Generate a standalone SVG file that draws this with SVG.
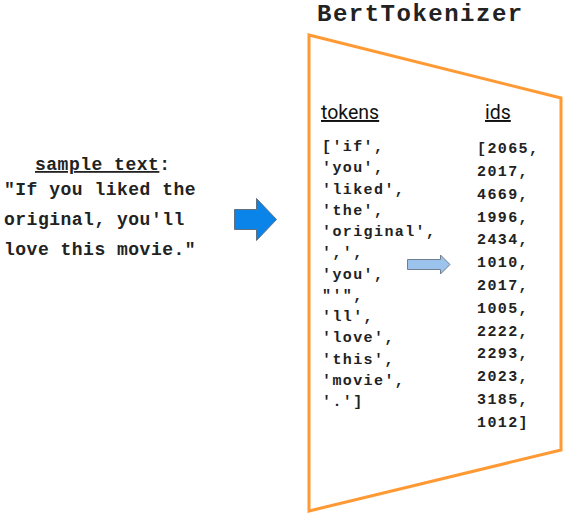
<svg xmlns="http://www.w3.org/2000/svg" width="570" height="517" viewBox="0 0 570 517">
<style>
.mono{font-family:"Courier New","Liberation Mono",monospace;font-weight:bold;fill:#222}
.big{font-size:18px;letter-spacing:0.5px}
.tok{font-size:15px;letter-spacing:1.4px}
.hdr{font-family:Roboto,"Liberation Sans",sans-serif;font-size:19.5px;fill:#111;text-decoration:underline}
</style>
<rect width="570" height="517" fill="#fff"/>
<g id="input-text">
<text class="mono big" x="35" y="170"><tspan text-decoration="underline">sample text</tspan>:</text>
<text class="mono big" x="4" y="195">"If you liked the</text>
<text class="mono big" x="4" y="225">original, you'll</text>
<text class="mono big" x="4" y="255">love this movie."</text>
</g>
<g id="connectors">
<path d="M234.5,209.5 H256.5 V198.5 L276.5,219.5 L256.5,240.5 V229.5 H234.5 Z" fill="#0a84e8" stroke="#607080" stroke-width="1"/>
<path d="M407.5,259.5 H440.5 V255 L450,264.5 L440.5,274 V269.5 H407.5 Z" fill="#9cc3ec" stroke="#6f7f8f" stroke-width="1"/>
</g>
<g id="tokenizer">
<polygon points="309,35 561,98 561,450 309,511" fill="none" stroke="#ff9933" stroke-width="3"/>
<text class="mono" x="317" y="21" font-size="24" letter-spacing="1.5">BertTokenizer</text>
</g>
<g id="tokens">
<text class="hdr" x="321" y="119">tokens</text>
<text class="mono tok" x="322"><tspan x="322" y="151">['if',</tspan><tspan x="322" y="172">'you',</tspan><tspan x="322" y="193.5">'liked',</tspan><tspan x="322" y="214.5">'the',</tspan><tspan x="322" y="236">'original',</tspan><tspan x="322" y="257">',',</tspan><tspan x="322" y="278.5">'you',</tspan><tspan x="322" y="299.5">"'",</tspan><tspan x="322" y="321">'ll',</tspan><tspan x="322" y="342">'love',</tspan><tspan x="322" y="363.5">'this',</tspan><tspan x="322" y="384.5">'movie',</tspan><tspan x="322" y="406">'.']</tspan></text>
</g>
<g id="ids">
<text class="hdr" x="485" y="119">ids</text>
<text class="mono tok" x="477"><tspan x="477" y="153">[2065,</tspan><tspan x="477" y="176">2017,</tspan><tspan x="477" y="198.5">4669,</tspan><tspan x="477" y="221.5">1996,</tspan><tspan x="477" y="244">2434,</tspan><tspan x="477" y="267">1010,</tspan><tspan x="477" y="290">2017,</tspan><tspan x="477" y="312.5">1005,</tspan><tspan x="477" y="335.5">2222,</tspan><tspan x="477" y="358">2293,</tspan><tspan x="477" y="381">2023,</tspan><tspan x="477" y="404">3185,</tspan><tspan x="477" y="427">1012]</tspan></text>
</g>
</svg>
